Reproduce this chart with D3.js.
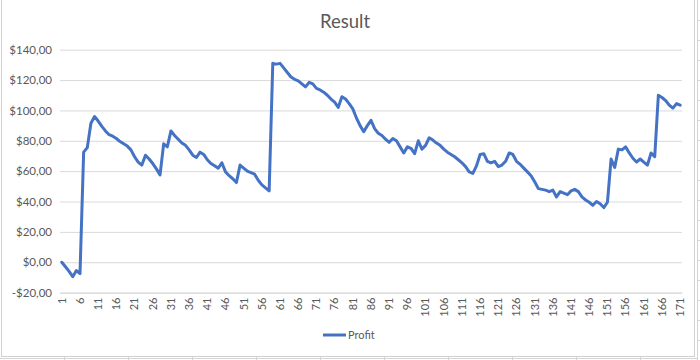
<!DOCTYPE html>
<html>
<head>
<meta charset="utf-8">
<script src="https://cdn.jsdelivr.net/npm/d3@7"></script>
<style>
  body { margin: 0; background: #fff; }
  svg { display: block; font-family: Lato, "Open Sans", sans-serif; }
</style>
</head>
<body>
<svg id="chart"></svg>
<script>
// categories 1..171, the series and the tick labels
const categories = d3.range(1, 172).map(String);
const profit = [
  0, -3, -6, -9.5, -5.5, -7.5, 72.5, 75.5, 91.5, 96,
  93, 89.5, 86.5, 84, 83, 81.5, 79.5, 78, 76.5, 74,
  69.5, 66, 64, 70.5, 68, 65, 61.5, 57.5, 78, 76,
  86.5, 83.5, 81, 78.5, 77, 74, 70.5, 69, 72.5, 71,
  67.5, 65, 63.5, 62, 65.5, 59.5, 57, 55, 52.5, 64,
  62, 60, 59, 58, 54, 51, 49, 47, 131, 130.5,
  131, 128, 125, 122, 120.5, 119.5, 117.5, 115.5, 118.5, 117.5,
  114.5, 113.5, 112, 110, 107.5, 105.5, 102, 109, 107.5, 104.5,
  101, 95, 90, 86, 90, 93.5, 88, 85, 83.5, 81,
  79, 81.5, 80, 76, 72, 76, 75, 71.5, 80, 74.5,
  77, 82, 80.5, 78.5, 77, 74.5, 72.5, 71, 69.5, 67.5,
  65.5, 63, 59.5, 58.5, 63.5, 71, 71.5, 66.5, 65.5, 66.5,
  63, 64, 66.5, 72, 71, 66.5, 64.5, 62, 59.5, 57,
  53, 48.5, 48, 47.5, 46.5, 47.5, 43, 46.5, 45.5, 44.5,
  47, 48, 46.5, 43, 41, 39.5, 37.5, 40, 38.5, 36,
  39.5, 68, 62.5, 74.5, 74, 76, 72, 68.5, 66, 68,
  66, 64, 72, 69.5, 110, 108.5, 106.5, 103.5, 101.5, 104.5,
  103.5
];
const yTicks = [-20, 0, 20, 40, 60, 80, 100, 120, 140];
const xTickLabels = categories.filter((c, i) => i % 5 === 0);
const seriesName = "Profit";
const title = "Result";

window.addEventListener('DOMContentLoaded', function() {
    drawChart();
});

function drawChart() {
    const width = 700, height = 360;
    const left = 60, right = 682, top = 49.7, bottom = 292.6;

    const svg = d3.select('#chart')
        .attr('width', width)
        .attr('height', height);

    // spreadsheet cells around the chart
    const cells = svg.append('g').attr('stroke', '#d4d4d4').attr('stroke-width', 1);
    cells.append('line').attr('x1', 697.5).attr('x2', 697.5).attr('y1', 0).attr('y2', height);
    d3.range(20, height, 20).forEach(function(y) {
        cells.append('line').attr('x1', 697).attr('x2', 700).attr('y1', y + 0.5).attr('y2', y + 0.5);
    });
    cells.append('line').attr('x1', 0).attr('x2', 697).attr('y1', 358.5).attr('y2', 358.5);
    d3.range(64, 700, 64).forEach(function(x) {
        cells.append('line').attr('x1', x + 0.5).attr('x2', x + 0.5).attr('y1', 357).attr('y2', height);
    });

    // chart frame
    svg.append('rect')
        .attr('x', 1.5).attr('y', -1)
        .attr('width', 693).attr('height', 357.5)
        .attr('fill', '#fff')
        .attr('stroke', '#d0d0d0');

    // title
    svg.append('text')
        .attr('x', 345).attr('y', 28)
        .attr('text-anchor', 'middle')
        .attr('font-size', 18.5)
        .attr('fill', '#595959')
        .text(title);

    const xScale = d3.scaleBand()
        .domain(categories)
        .range([left, right])
        .padding(0);

    const yScale = d3.scaleLinear()
        .domain([-20, 140])
        .range([bottom, top]);

    const fmt = function(d) {
        return (d < 0 ? '-' : '') + '$' + Math.abs(d).toFixed(2).replace('.', ',');
    };

    // y axis with gridlines
    const yAxis = svg.append('g')
        .attr('transform', `translate(${left}, 0)`)
        .call(d3.axisLeft(yScale).tickValues(yTicks).tickFormat(fmt).tickSize(-(right - left)).tickPadding(8));
    yAxis.select('.domain').remove();
    yAxis.selectAll('.tick line').attr('stroke', '#d9d9d9').attr('stroke-width', 1);
    yAxis.selectAll('.tick text')
        .attr('font-family', 'Lato, sans-serif')
        .attr('font-size', 11.5)
        .attr('fill', '#595959');

    // x axis, labels every 5th category, rotated
    const xAxis = svg.append('g')
        .attr('transform', `translate(0, ${bottom})`)
        .call(d3.axisBottom(xScale).tickValues(xTickLabels).tickSize(0).tickPadding(0));
    xAxis.select('.domain').attr('stroke', '#d9d9d9');
    xAxis.selectAll('.tick text')
        .attr('font-family', 'Lato, sans-serif')
        .attr('font-size', 11)
        .attr('fill', '#595959')
        .attr('text-anchor', 'end')
        .attr('dy', '0.35em')
        .attr('transform', 'translate(0, 5) rotate(-90)');

    // series line
    const line = d3.line()
        .x(function(d, i) { return xScale(categories[i]) + xScale.bandwidth() / 2; })
        .y(function(d) { return yScale(d); });

    svg.append('path')
        .datum(profit)
        .attr('fill', 'none')
        .attr('stroke', '#4472C4')
        .attr('stroke-width', 3)
        .attr('stroke-linejoin', 'round')
        .attr('stroke-linecap', 'round')
        .attr('d', line);

    // legend
    const legend = svg.append('g').attr('transform', 'translate(323, 335)');
    legend.append('line')
        .attr('x1', 0).attr('x2', 23)
        .attr('y1', 0).attr('y2', 0)
        .attr('stroke', '#4472C4')
        .attr('stroke-width', 3);
    legend.append('text')
        .attr('x', 25).attr('y', 0)
        .attr('dy', '0.35em')
        .attr('font-size', 11)
        .attr('fill', '#595959')
        .text(seriesName);
}
</script>
</body>
</html>
